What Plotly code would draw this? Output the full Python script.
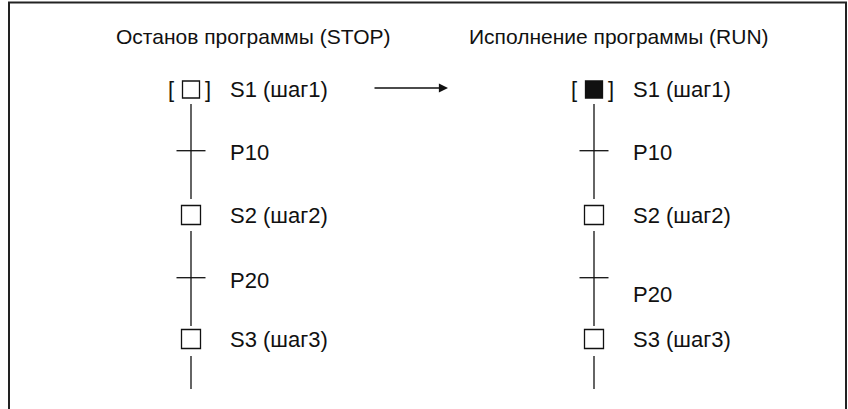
import plotly.graph_objects as go

# ---- diagram content ----
titles = ["Останов программы (STOP)", "Исполнение программы (RUN)"]
step_labels = ["S1 (шаг1)", "S2 (шаг2)", "S3 (шаг3)"]
transition_labels = ["P10", "P20"]
active_steps = [[False, False, False], [True, False, False]]  # STOP, RUN
initial_step = 0

# ---- layout constants (pixel space) ----
W, H = 848, 409
col_x = [191, 594]
title_x = [253, 619]
title_y = 36
step_y = [89.5, 215, 339]
trans_y = [150.7, 277.7]
trans_label_dy = [[2, 3], [2, 17]]
label_dx = [37, 37]
seg_y = [(104, 199), (231, 326), (356, 389)]
bar_half = 14.5
font = "Liberation Sans, Arial, Helvetica, sans-serif"
ink = "#111111"

fig = go.Figure()

for c, cx in enumerate(col_x):
    # vertical segments
    xs, ys = [], []
    for (y0, y1) in seg_y:
        xs += [cx, cx, None]
        ys += [y0, y1, None]
    # transition crossbars
    for ty in trans_y:
        xs += [cx - bar_half, cx + bar_half, None]
        ys += [ty, ty, None]
    fig.add_trace(go.Scatter(x=xs, y=ys, mode="lines",
                             line=dict(color=ink, width=1.3),
                             hoverinfo="skip", showlegend=False))
    # steps
    for i, (lab, sy) in enumerate(zip(step_labels, step_y)):
        active = active_steps[c][i]
        size = 17 if i == initial_step else 19
        fig.add_trace(go.Scatter(
            x=[cx], y=[sy], mode="markers",
            marker=dict(symbol="square", size=size,
                        color=ink if active else "white",
                        line=dict(color=ink, width=1.3)),
            hoverinfo="skip", showlegend=False))
        fig.add_annotation(x=cx + label_dx[c], y=sy, text=lab, showarrow=False,
                           xanchor="left", yanchor="middle",
                           font=dict(family=font, size=22, color=ink))
        if i == initial_step:
            fig.add_annotation(x=cx - 15, y=sy, text="[", showarrow=False,
                               xanchor="right", yanchor="middle",
                               font=dict(family=font, size=22, color=ink))
            fig.add_annotation(x=cx + 12, y=sy, text="]", showarrow=False,
                               xanchor="left", yanchor="middle",
                               font=dict(family=font, size=22, color=ink))
    # transitions
    for j, (lab, ty) in enumerate(zip(transition_labels, trans_y)):
        fig.add_annotation(x=cx + label_dx[c], y=ty + trans_label_dy[c][j], text=lab,
                           showarrow=False, xanchor="left", yanchor="middle",
                           font=dict(family=font, size=22, color=ink))
    # column title
    fig.add_annotation(x=title_x[c], y=title_y, text=titles[c], showarrow=False,
                       xanchor="center", yanchor="middle",
                       font=dict(family=font, size=21, color=ink))

# arrow STOP -> RUN
fig.add_annotation(x=448, y=88, ax=373, ay=88, xref="x", yref="y",
                   axref="x", ayref="y", text="", showarrow=True,
                   arrowhead=2, arrowsize=1.4, arrowwidth=1.3, arrowcolor=ink)

# frame (open at bottom)
fig.add_shape(type="path", path="M 9,409 L 9,2.5 L 846,2.5 L 846,409",
              line=dict(color="#222222", width=2))

fig.update_layout(
    width=W, height=H, margin=dict(l=0, r=0, t=0, b=0),
    paper_bgcolor="white", plot_bgcolor="white",
    xaxis=dict(range=[0, W], visible=False, fixedrange=True),
    yaxis=dict(range=[H, 0], visible=False, fixedrange=True),
)

fig.write_html("out.html",
               config={"displayModeBar": False},
               post_script="document.body.style.margin='0';document.body.style.overflow='hidden';")
